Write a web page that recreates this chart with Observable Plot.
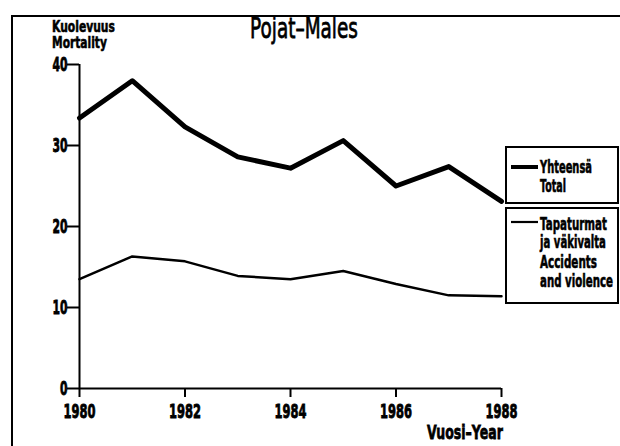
<!DOCTYPE html>
<html>
<head>
<meta charset="utf-8">
<script src="https://cdn.jsdelivr.net/npm/d3@7"></script>
<script src="https://cdn.jsdelivr.net/npm/@observablehq/plot@0.6"></script>
<style>
  html, body { margin: 0; padding: 0; background: #fff; }
  #wrap { position: relative; width: 620px; height: 446px; overflow: hidden; background: #fff; }
  #wrap svg { position: absolute; left: 0; top: 0; }
</style>
</head>
<body>
<div id="wrap"></div>
<script>
const years = [1980, 1981, 1982, 1983, 1984, 1985, 1986, 1987, 1988];
const total = [33.4, 38.0, 32.3, 28.6, 27.2, 30.6, 25.0, 27.4, 23.1];
const accidents = [13.5, 16.3, 15.7, 13.9, 13.5, 14.5, 12.9, 11.5, 11.4];
const xTicks = [1980, 1982, 1984, 1986, 1988];
const yTicks = [0, 10, 20, 30, 40];
const title = "Pojat–Males";
const yLabel = ["Kuolevuus", "Mortality"];
const xLabel = "Vuosi–Year";
const legendTotal = ["Yhteensä", "Total"];
const legendAcc = ["Tapaturmat", "ja väkivalta", "Accidents", "and violence"];

const FONT = '"DejaVu Sans", sans-serif';
const dTotal = years.map((y, i) => ({year: y, value: total[i]}));
const dAcc = years.map((y, i) => ({year: y, value: accidents[i]}));

const chart = Plot.plot({
  width: 620,
  height: 446,
  marginLeft: 79,
  marginRight: 119,
  marginTop: 64,
  marginBottom: 58,
  style: {fontFamily: FONT, fontSize: "20px", fontWeight: "bold", color: "#000", background: "transparent"},
  x: {domain: [1980, 1988]},
  y: {domain: [0, 40]},
  marks: [
    Plot.axisY({ticks: yTicks, tickSize: 12, tickPadding: 0, strokeWidth: 2, label: null}),
    Plot.axisX({ticks: xTicks, tickSize: 9, tickPadding: 6, strokeWidth: 2, label: null, tickFormat: d => String(d)}),
    Plot.ruleX([1980], {stroke: "#000", strokeWidth: 2}),
    Plot.ruleY([0], {stroke: "#000", strokeWidth: 2}),
    Plot.line(dAcc, {x: "year", y: "value", stroke: "#000", strokeWidth: 2.5}),
    Plot.line(dTotal, {x: "year", y: "value", stroke: "#000", strokeWidth: 5})
  ]
});

const wrap = document.getElementById("wrap");
wrap.appendChild(chart);

// squeeze a text horizontally to a target width (reference uses a narrow plotter font)
function squeeze(node, len) {
  const w = node.getComputedTextLength();
  if (!w) return;
  const t = node.getAttribute("transform") || "";
  node.setAttribute("transform", (t + " scale(" + (len / w).toFixed(4) + ",1)").trim());
}

d3.select(chart).selectAll('g[aria-label="x-axis tick label"] text').each(function () {
  this.setAttribute("font-size", 20);
  this.setAttribute("font-weight", "bold");
  this.setAttribute("stroke", "#000");
  this.setAttribute("stroke-width", 0.9);
  squeeze(this, 8 * this.textContent.length);
});
d3.select(chart).selectAll('g[aria-label="y-axis tick label"] text').each(function () {
  this.setAttribute("font-size", 20);
  this.setAttribute("font-weight", "bold");
  this.setAttribute("stroke", "#000");
  this.setAttribute("stroke-width", 0.9);
  squeeze(this, 7.5 * this.textContent.length);
});

// overlay: frame, title, axis titles, legend
const ov = d3.select(wrap).append("svg")
  .attr("width", 620).attr("height", 446)
  .style("font-family", FONT);

ov.append("path").attr("d", "M12,446V16H620").attr("fill", "none").attr("stroke", "#000").attr("stroke-width", 2);

function txt(s, x, y, size, weight, len, extraStroke) {
  const t = ov.append("text").text(s)
    .attr("transform", "translate(" + x + "," + y + ")")
    .attr("font-size", size).attr("font-weight", weight)
    .attr("fill", "#000");
  if (extraStroke) t.attr("stroke", "#000").attr("stroke-width", extraStroke);
  squeeze(t.node(), len);
}

txt(title, 250, 38, 29, "normal", 108, 0.8);
txt(yLabel[0], 52, 32, 15.5, "bold", 63, 0.6);
txt(yLabel[1], 52, 48, 15.5, "bold", 55, 0.6);
txt(xLabel, 427, 439, 20, "bold", 76, 0.8);

// legend boxes
ov.append("rect").attr("x", 506).attr("y", 147).attr("width", 112).attr("height", 56)
  .attr("fill", "#fff").attr("stroke", "#000").attr("stroke-width", 2);
ov.append("rect").attr("x", 506).attr("y", 208).attr("width", 112).attr("height", 95)
  .attr("fill", "#fff").attr("stroke", "#000").attr("stroke-width", 2);
ov.append("line").attr("x1", 511).attr("x2", 538).attr("y1", 167).attr("y2", 167)
  .attr("stroke", "#000").attr("stroke-width", 4);
ov.append("line").attr("x1", 511).attr("x2", 538).attr("y1", 222).attr("y2", 222)
  .attr("stroke", "#000").attr("stroke-width", 2.2);

const totalLens = [52, 26];
const totalY = [173, 192];
legendTotal.forEach((s, i) => txt(s, 540, totalY[i], 17, "bold", totalLens[i], 0.6));
const accLens = [67, 66, 57, 73];
const accY = [230, 248, 268, 287];
legendAcc.forEach((s, i) => txt(s, 540, accY[i], 17, "bold", accLens[i], 0.6));
</script>
</body>
</html>
